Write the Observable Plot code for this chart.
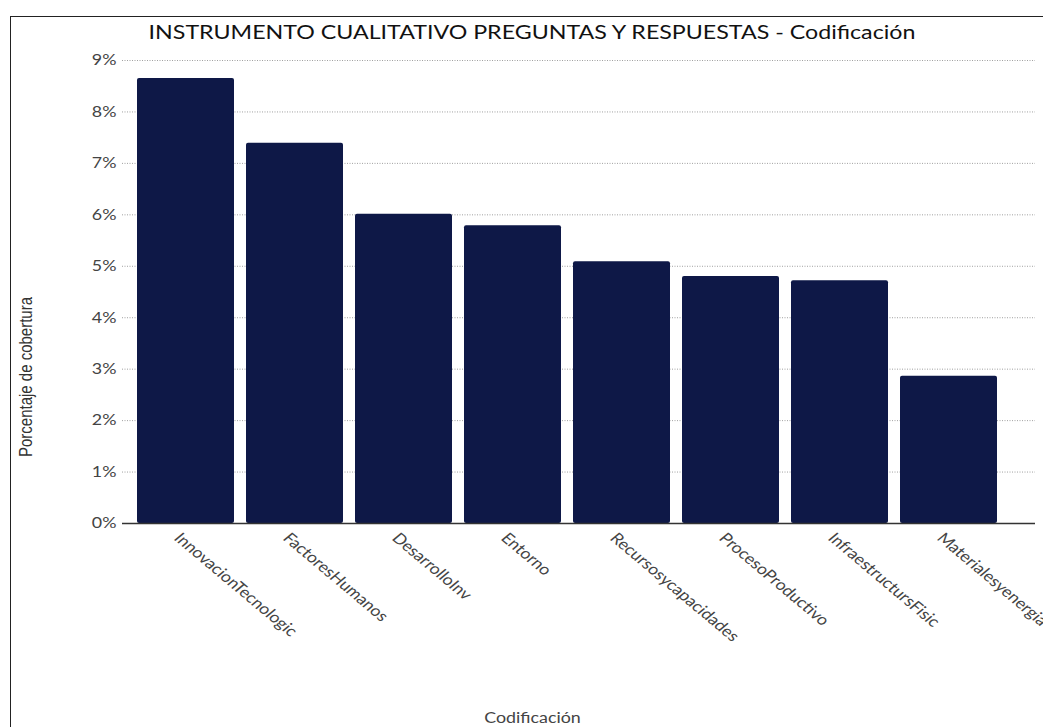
<!DOCTYPE html>
<html>
<head>
<meta charset="utf-8">
<script src="https://cdn.jsdelivr.net/npm/d3@7"></script>
<script src="https://cdn.jsdelivr.net/npm/@observablehq/plot@0.6"></script>
<style>
  html, body { margin: 0; padding: 0; background: #fff; overflow: hidden; }
  #wrap { position: relative; width: 1043px; height: 727px; overflow: hidden; }
  #frame { position: absolute; left: 10px; top: 16px; width: 1100px; height: 800px; border: 1.5px solid #222; box-sizing: border-box; }
  #title { position: absolute; left: 532px; top: 20px; transform: translateX(-50%) scaleX(1.19); font-family: Lato, sans-serif; font-size: 19.5px; color: #111; white-space: nowrap; }
  #ylabel { position: absolute; left: 25px; top: 377px; transform: translate(-50%, -50%) rotate(-90deg) scaleY(1.2); font-family: "Liberation Sans", Arial, sans-serif; font-size: 15px; color: #333; white-space: nowrap; }
  #chart { position: absolute; left: 0; top: 45px; }
</style>
</head>
<body>
<div id="wrap">
  <div id="frame"></div>
  <div id="title">INSTRUMENTO CUALITATIVO PREGUNTAS Y RESPUESTAS - Codificación</div>
  <div id="ylabel">Porcentaje de cobertura</div>
  <div id="chart"></div>
</div>
<script>
const categories = ["InnovacionTecnologic", "FactoresHumanos", "DesarrolloInv", "Entorno", "Recursosycapacidades", "ProcesoProductivo", "InfraestructursFisic", "Materialesyenergia"];
const values = [8.65, 7.39, 6.01, 5.79, 5.09, 4.80, 4.72, 2.86];
const yTicks = [0, 1, 2, 3, 4, 5, 6, 7, 8, 9];

const data = categories.map((c, i) => ({ cat: c, val: values[i] }));

const W = 1043, H = 682;
const SX = 1.19;
const chart = Plot.plot({
  width: W,
  height: H,
  marginTop: 15,
  marginBottom: 204,
  marginLeft: 122,
  marginRight: 8,
  style: { fontFamily: "Lato, sans-serif", fontSize: "15px", color: "#444", overflow: "visible" },
  x: { domain: categories, range: [122, 1012], paddingInner: 0.11, paddingOuter: 0.13 },
  y: { domain: [0, 9] },
  marks: [
    Plot.gridY(yTicks, { stroke: "#888", strokeOpacity: 0.8, strokeDasharray: "1,1.5", strokeWidth: 1 }),
    Plot.barY(data, { x: "cat", y: "val", fill: "#0e1847", rx: 2 }),
    Plot.ruleY([0], { stroke: "#333", strokeWidth: 1.5 }),
    Plot.ruleX([0], { x: () => 122, y1: 0, y2: 9, stroke: "#333", strokeWidth: 1.2 }),
    Plot.axisY(yTicks, { tickSize: 0, tickPadding: 6, tickFormat: d => d + "%", label: null, fill: "#444" }),
    Plot.axisX({ tickSize: 0, tickPadding: 10, tickRotate: 45, label: "Codificación", labelAnchor: "center", labelArrow: "none", labelOffset: 199, fill: "#444" })
  ]
});
document.getElementById("chart").appendChild(chart);

// emulate the reference's horizontally stretched lettering
const svg = d3.select(chart);
svg.selectAll('g[aria-label="y-axis tick label"] text').each(function () {
  const t = this.getAttribute("transform") || "";
  this.setAttribute("transform", t + ` scale(${SX},1)`);
});
svg.selectAll('g[aria-label="x-axis tick label"] text').each(function () {
  const t = this.getAttribute("transform") || "";
  this.setAttribute("transform", "translate(-9,2) " + t.replace(/rotate\(/, `scale(${SX},1) rotate(`));
});
svg.selectAll('g[aria-label="x-axis label"] text').each(function () {
  const t = this.getAttribute("transform") || "";
  const m = t.match(/translate\(\s*([-\d.]+)[ ,]+([-\d.]+)\s*\)/);
  const ty = m ? +m[2] : 0;
  this.setAttribute("transform", `translate(532,${ty}) scale(${SX},1)`);
});
</script>
</body>
</html>
